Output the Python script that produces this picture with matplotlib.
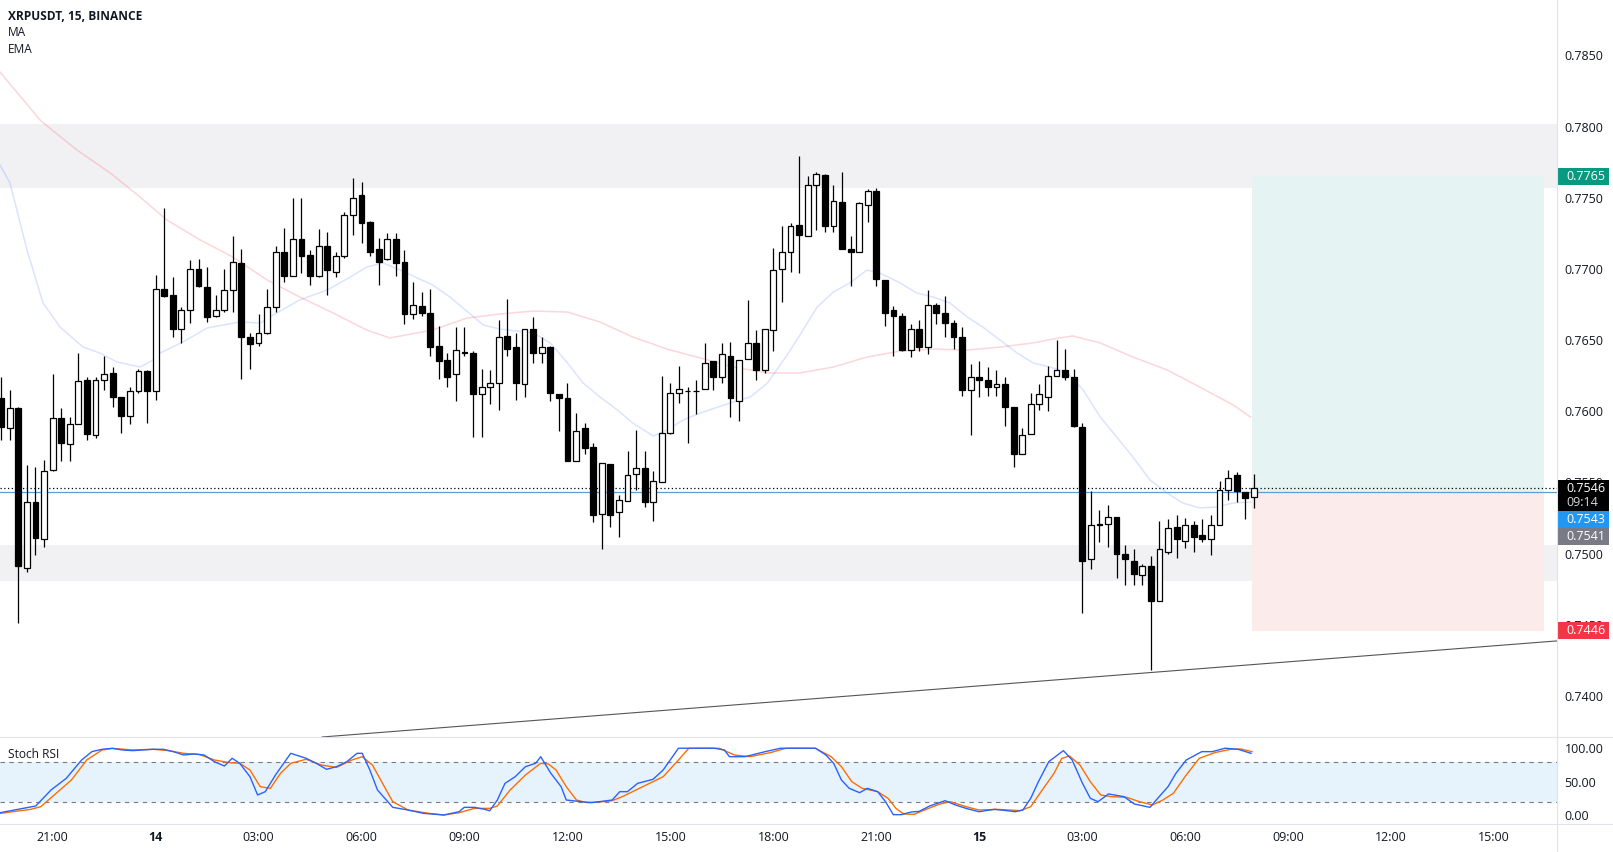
import numpy as np
import matplotlib
matplotlib.use("Agg")
import matplotlib.pyplot as plt
from matplotlib.lines import Line2D
from matplotlib.patches import Rectangle
from matplotlib.transforms import blended_transform_factory, ScaledTranslation

plt.rcParams['font.family'] = ['Open Sans', 'DejaVu Sans']

# ---- data (15 min bars, bar 0 = 13th 19:30) ----
opens = [0.7609, 0.7588, 0.7602, 0.7490, 0.7536, 0.7510, 0.7559, 0.7595, 0.7577, 0.7591,
         0.7622, 0.7583, 0.7622, 0.7627, 0.7610, 0.7597, 0.7614, 0.7628, 0.7614, 0.7686,
         0.7682, 0.7658, 0.7671, 0.7700, 0.7687, 0.7667, 0.7671, 0.7685, 0.7704, 0.7652,
         0.7648, 0.7655, 0.7673, 0.7712, 0.7695, 0.7721, 0.7710, 0.7695, 0.7716, 0.7698,
         0.7709, 0.7738, 0.7752, 0.7733, 0.7714, 0.7707, 0.7721, 0.7705, 0.7668, 0.7674,
         0.7669, 0.7646, 0.7636, 0.7626, 0.7641, 0.7641, 0.7612, 0.7617, 0.7620, 0.7653,
         0.7645, 0.7619, 0.7658, 0.7641, 0.7645, 0.7612, 0.7609, 0.7565, 0.7588, 0.7575,
         0.7528, 0.7563, 0.7529, 0.7537, 0.7556, 0.7560, 0.7536, 0.7550, 0.7585, 0.7613,
         0.7614, 0.7614, 0.7616, 0.7635, 0.7624, 0.7639, 0.7607, 0.7637, 0.7648, 0.7629,
         0.7657, 0.7700, 0.7712, 0.7731, 0.7723, 0.7759, 0.7766, 0.7730, 0.7747, 0.7714,
         0.7712, 0.7745, 0.7755, 0.7692, 0.7671, 0.7667, 0.7643, 0.7658, 0.7645, 0.7675,
         0.7669, 0.7662, 0.7652, 0.7615, 0.7624, 0.7622, 0.7617, 0.7619, 0.7603, 0.7570,
         0.7584, 0.7605, 0.7610, 0.7625, 0.7629, 0.7624, 0.7589, 0.7496, 0.7521, 0.7521,
         0.7526, 0.7500, 0.7495, 0.7485, 0.7491, 0.7467, 0.7501, 0.7519, 0.7509, 0.7520,
         0.7513, 0.7510, 0.7520, 0.7545, 0.7555, 0.7543, 0.7540]
highs = [0.7624, 0.7615, 0.7603, 0.7562, 0.7561, 0.7566, 0.7626, 0.7602, 0.7596, 0.7641,
         0.7624, 0.7624, 0.7639, 0.7631, 0.7610, 0.7617, 0.7630, 0.7629, 0.7696, 0.7743,
         0.7694, 0.7673, 0.7706, 0.7707, 0.7701, 0.7682, 0.7700, 0.7723, 0.7714, 0.7655,
         0.7668, 0.7686, 0.7716, 0.7729, 0.7750, 0.7750, 0.7713, 0.7728, 0.7726, 0.7712,
         0.7740, 0.7764, 0.7761, 0.7734, 0.7722, 0.7725, 0.7725, 0.7713, 0.7691, 0.7684,
         0.7686, 0.7660, 0.7641, 0.7659, 0.7659, 0.7642, 0.7630, 0.7629, 0.7664, 0.7679,
         0.7655, 0.7658, 0.7666, 0.7652, 0.7646, 0.7612, 0.7620, 0.7599, 0.7592, 0.7578,
         0.7564, 0.7563, 0.7541, 0.7572, 0.7587, 0.7572, 0.7558, 0.7625, 0.7620, 0.7632,
         0.7617, 0.7622, 0.7648, 0.7635, 0.7648, 0.7649, 0.7636, 0.7678, 0.7657, 0.7658,
         0.7715, 0.7730, 0.7732, 0.7779, 0.7765, 0.7768, 0.7767, 0.7759, 0.7768, 0.7723,
         0.7747, 0.7756, 0.7757, 0.7692, 0.7674, 0.7669, 0.7661, 0.7664, 0.7685, 0.7676,
         0.7681, 0.7664, 0.7659, 0.7633, 0.7635, 0.7631, 0.7629, 0.7624, 0.7603, 0.7588,
         0.7613, 0.7619, 0.7632, 0.7650, 0.7644, 0.7630, 0.7592, 0.7544, 0.7531, 0.7534,
         0.7526, 0.7506, 0.7503, 0.7493, 0.7498, 0.7523, 0.7524, 0.7527, 0.7525, 0.7523,
         0.7524, 0.7527, 0.7551, 0.7559, 0.7557, 0.7543, 0.7556]
lows = [0.7580, 0.7580, 0.7451, 0.7487, 0.7499, 0.7505, 0.7558, 0.7565, 0.7565, 0.7591,
        0.7580, 0.7581, 0.7615, 0.7603, 0.7585, 0.7591, 0.7613, 0.7592, 0.7608, 0.7680,
        0.7652, 0.7648, 0.7662, 0.7687, 0.7663, 0.7666, 0.7670, 0.7670, 0.7623, 0.7630,
        0.7646, 0.7654, 0.7670, 0.7691, 0.7695, 0.7697, 0.7689, 0.7694, 0.7682, 0.7694,
        0.7708, 0.7724, 0.7718, 0.7709, 0.7689, 0.7706, 0.7695, 0.7661, 0.7665, 0.7667,
        0.7639, 0.7623, 0.7617, 0.7607, 0.7639, 0.7582, 0.7582, 0.7605, 0.7601, 0.7639,
        0.7608, 0.7610, 0.7634, 0.7634, 0.7607, 0.7586, 0.7565, 0.7565, 0.7570, 0.7522,
        0.7503, 0.7519, 0.7512, 0.7537, 0.7545, 0.7533, 0.7523, 0.7550, 0.7584, 0.7606,
        0.7578, 0.7598, 0.7616, 0.7615, 0.7620, 0.7596, 0.7593, 0.7637, 0.7622, 0.7627,
        0.7642, 0.7677, 0.7698, 0.7697, 0.7723, 0.7727, 0.7726, 0.7726, 0.7714, 0.7688,
        0.7712, 0.7733, 0.7688, 0.7660, 0.7639, 0.7642, 0.7638, 0.7642, 0.7640, 0.7661,
        0.7652, 0.7644, 0.7611, 0.7583, 0.7610, 0.7611, 0.7611, 0.7590, 0.7561, 0.7570,
        0.7584, 0.7601, 0.7600, 0.7625, 0.7622, 0.7589, 0.7458, 0.7489, 0.7508, 0.7505,
        0.7483, 0.7478, 0.7478, 0.7478, 0.7418, 0.7467, 0.7500, 0.7497, 0.7504, 0.7501,
        0.7508, 0.7499, 0.7520, 0.7538, 0.7536, 0.7524, 0.7532]
closes = [0.7589, 0.7602, 0.7491, 0.7536, 0.7511, 0.7558, 0.7595, 0.7578, 0.7591, 0.7621,
          0.7584, 0.7622, 0.7626, 0.7610, 0.7597, 0.7614, 0.7628, 0.7614, 0.7686, 0.7681,
          0.7658, 0.7671, 0.7700, 0.7688, 0.7666, 0.7671, 0.7685, 0.7705, 0.7652, 0.7647,
          0.7655, 0.7673, 0.7712, 0.7695, 0.7721, 0.7709, 0.7695, 0.7716, 0.7699, 0.7709,
          0.7738, 0.7750, 0.7732, 0.7712, 0.7705, 0.7721, 0.7704, 0.7668, 0.7675, 0.7669,
          0.7645, 0.7635, 0.7624, 0.7643, 0.7641, 0.7612, 0.7617, 0.7620, 0.7652, 0.7644,
          0.7620, 0.7658, 0.7641, 0.7645, 0.7613, 0.7609, 0.7565, 0.7586, 0.7574, 0.7527,
          0.7564, 0.7527, 0.7538, 0.7555, 0.7560, 0.7536, 0.7551, 0.7585, 0.7613, 0.7616,
          0.7614, 0.7614, 0.7634, 0.7624, 0.7640, 0.7609, 0.7636, 0.7648, 0.7629, 0.7658,
          0.7699, 0.7712, 0.7730, 0.7724, 0.7759, 0.7767, 0.7730, 0.7748, 0.7714, 0.7712,
          0.7746, 0.7755, 0.7693, 0.7669, 0.7667, 0.7643, 0.7658, 0.7645, 0.7675, 0.7669,
          0.7662, 0.7652, 0.7615, 0.7624, 0.7622, 0.7617, 0.7619, 0.7603, 0.7570, 0.7583,
          0.7605, 0.7612, 0.7625, 0.7629, 0.7624, 0.7590, 0.7495, 0.7520, 0.7520, 0.7526,
          0.7500, 0.7496, 0.7486, 0.7491, 0.7467, 0.7503, 0.7518, 0.7510, 0.7520, 0.7512,
          0.7510, 0.7520, 0.7545, 0.7553, 0.7544, 0.7539, 0.7546]

# moving averages: (bar, price)
ma_pts = [(-0.14, 0.78383), (4.64, 0.78039), (8.84, 0.77835), (12.7, 0.77674), (16.2, 0.77505),
          (19.3, 0.77344), (23.2, 0.77203), (27.0, 0.77084), (31.0, 0.76922), (34.8, 0.76803),
          (38.7, 0.76690), (42.6, 0.76571), (45.3, 0.76515), (50.3, 0.76571), (54.3, 0.76655),
          (58.1, 0.76683), (62.0, 0.76704), (66.0, 0.76697), (69.8, 0.76627), (73.6, 0.76522),
          (77.6, 0.76437), (81.5, 0.76374), (85.3, 0.76311), (89.3, 0.76269), (93.1, 0.76269),
          (97.0, 0.76311), (100.9, 0.76381), (104.8, 0.76423), (108.6, 0.76437), (112.6, 0.76430),
          (116.4, 0.76451), (120.3, 0.76480), (122.6, 0.76508), (124.9, 0.76529), (128.1, 0.76480),
          (131.9, 0.76381), (135.9, 0.76290), (139.7, 0.76170), (143.6, 0.76044), (145.6, 0.75960)]
ema_pts = [(-0.14, 0.77730), (1.03, 0.77604), (3.01, 0.77133), (4.88, 0.76761), (6.86, 0.76592),
           (9.54, 0.76451), (11.5, 0.76409), (13.5, 0.76346), (16.2, 0.76311), (17.7, 0.76360),
           (18.5, 0.76409), (21.2, 0.76487), (24.0, 0.76585), (27.8, 0.76627), (30.2, 0.76620),
           (31.7, 0.76676), (34.8, 0.76782), (38.0, 0.76852), (40.7, 0.76943), (42.6, 0.77013),
           (44.5, 0.77042), (46.5, 0.76992), (50.3, 0.76887), (52.3, 0.76803), (56.2, 0.76606),
           (58.1, 0.76578), (62.0, 0.76550), (64.0, 0.76480), (66.0, 0.76340), (67.8, 0.76200),
           (69.8, 0.76100), (71.8, 0.76010), (73.6, 0.75918), (76.0, 0.75826), (77.6, 0.75868),
           (79.5, 0.75939), (81.5, 0.75988), (85.3, 0.76065), (87.3, 0.76100), (89.3, 0.76198),
           (91.6, 0.76395), (93.1, 0.76536), (95.1, 0.76732), (97.0, 0.76838), (98.9, 0.76901),
           (100.9, 0.76992), (102.4, 0.76971), (104.8, 0.76901), (106.7, 0.76831), (108.6, 0.76803),
           (110.6, 0.76760), (112.6, 0.76662), (114.4, 0.76592), (116.4, 0.76501), (118.4, 0.76410),
           (120.3, 0.76339), (122.2, 0.76311), (124.2, 0.76276), (126.1, 0.76150), (128.1, 0.75960),
           (130.0, 0.75820), (131.9, 0.75679), (133.9, 0.75517), (135.9, 0.75426), (137.7, 0.75356),
           (139.7, 0.75321), (141.7, 0.75328), (143.6, 0.75356), (145.6, 0.75363)]

# stoch rsi: (bar, value)
stoch_k = [(-0.14, 4.0), (4.03, 14.0), (5.81, 37.8), (7.59, 55.2), (9.38, 82.5), (10.57, 94.9),
           (11.76, 98.4), (12.94, 99.8), (14.13, 97.4), (15.32, 96.4), (16.51, 97.4), (17.7, 98.4),
           (18.89, 98.4), (20.08, 94.9), (21.27, 89.9), (22.46, 91.4), (23.65, 89.9), (24.84, 80.0),
           (26.02, 73.5), (26.92, 85.0), (27.81, 77.5), (29.0, 57.6), (29.89, 30.4), (30.78, 35.3),
           (31.97, 60.1), (33.75, 92.4), (35.54, 85.0), (36.73, 77.5), (37.92, 68.6), (39.1, 72.6),
           (40.29, 80.0), (41.48, 92.4), (42.08, 92.4), (42.97, 67.6), (43.86, 37.8), (45.64, 12.0),
           (47.43, 8.0), (49.21, 3.1), (51.59, 0.6), (53.37, 5.5), (53.97, 12.0), (55.16, 12.0),
           (56.35, 9.0), (56.94, 7.0), (57.83, 22.9), (58.72, 47.7), (59.91, 57.6), (61.1, 72.5),
           (62.29, 77.5), (62.88, 87.4), (64.07, 62.6), (65.26, 42.8), (65.86, 22.9), (67.64, 20.4),
           (68.83, 19.0), (70.02, 20.9), (71.21, 22.9), (72.1, 35.3), (72.99, 35.3), (74.18, 47.7),
           (75.97, 53.7), (77.16, 67.6), (78.94, 100.0), (80.72, 100.0), (83.1, 100.0), (84.29, 97.4),
           (84.88, 87.4), (86.67, 87.4), (89.05, 94.9), (90.83, 100.0), (92.61, 100.0), (94.91, 100.0),
           (96.12, 89.9), (97.03, 77.5), (97.93, 52.7), (98.84, 40.3), (100.05, 33.8), (100.95, 40.3),
           (102.16, 35.3), (103.07, 20.4), (103.98, 1.1), (104.88, 1.1), (106.09, 5.1), (107.0, 6.0),
           (108.21, 14.0), (110.02, 21.9), (111.23, 15.5), (112.44, 10.5), (113.95, 5.5), (115.76, 9.0),
           (117.27, 7.0), (118.18, 5.5), (119.08, 8.0), (119.99, 25.4), (120.89, 50.2), (122.1, 80.0),
           (123.8, 96.4), (124.82, 82.5), (126.03, 47.7), (126.94, 25.4), (127.84, 20.4), (129.05, 31.9),
           (130.86, 27.9), (132.07, 17.0), (133.89, 12.0), (134.79, 25.4), (136.0, 42.8), (136.91, 62.6),
           (138.12, 82.5), (139.93, 94.9), (141.14, 94.9), (142.65, 100.0), (144.16, 98.4), (145.67, 92.4)]
stoch_d = [(-0.14, 3.0), (3.43, 9.0), (4.62, 13.0), (6.4, 32.8), (8.19, 52.7), (9.97, 82.5),
           (11.76, 97.4), (12.94, 99.8), (15.32, 97.4), (17.7, 98.4), (19.48, 96.4), (21.27, 92.4),
           (23.05, 90.9), (24.84, 82.5), (26.62, 78.5), (27.81, 77.5), (29.0, 67.6), (30.19, 42.8),
           (31.38, 40.3), (32.56, 62.6), (33.75, 77.5), (35.54, 83.5), (37.32, 75.0), (39.1, 71.5),
           (40.89, 82.5), (42.08, 87.4), (43.27, 75.0), (44.45, 47.7), (45.64, 20.4), (47.43, 8.0),
           (49.81, 3.1), (51.59, 0.6), (53.37, 4.0), (55.16, 10.5), (56.94, 10.5), (57.83, 14.0),
           (59.32, 37.8), (61.1, 60.1), (62.88, 77.5), (63.78, 76.5), (64.67, 67.6), (65.86, 42.8),
           (67.05, 22.9), (68.24, 19.0), (70.02, 20.4), (71.21, 21.9), (72.4, 27.9), (74.78, 42.8),
           (77.16, 57.6), (78.94, 82.5), (80.13, 99.8), (81.91, 100.0), (83.69, 99.8), (85.48, 89.9),
           (87.26, 87.4), (89.64, 93.4), (91.42, 99.8), (92.61, 100.0), (94.91, 99.8), (96.73, 87.4),
           (97.93, 72.6), (99.14, 50.2), (100.35, 40.3), (102.16, 35.3), (103.37, 25.4), (104.28, 10.5),
           (105.18, 2.1), (106.39, 1.6), (107.6, 8.0), (109.41, 17.0), (110.62, 20.4), (112.44, 13.0),
           (113.95, 8.0), (116.06, 9.0), (117.57, 8.0), (118.78, 7.0), (119.99, 13.0), (121.2, 35.3),
           (122.71, 62.6), (123.61, 84.9), (124.52, 88.4), (125.73, 75.0), (126.94, 50.2), (128.15, 30.4),
           (129.35, 27.9), (131.17, 26.9), (132.68, 20.4), (134.19, 15.5), (135.4, 22.9), (136.61, 32.8),
           (138.12, 60.1), (139.63, 84.9), (141.44, 93.4), (143.26, 98.4), (144.46, 98.9), (145.79, 94.9)]

# zones / drawings
top_zone = (0.77566, 0.78021)
low_zone = (0.74808, 0.75061)
entry, target, stop = 0.7543, 0.7765, 0.7446
last_price = 0.7546
ema_tag = 0.7541
countdown = '09:14'
pos_start, pos_end = 145.8, 179.8
trend_a = (37.4, 0.73712)
trend_b = (134.0, 0.74165)

time_ticks = [6, 18, 30, 42, 54, 66, 78, 90, 102, 114, 126, 138, 150, 162, 174]
time_labels = ['21:00', '14', '03:00', '06:00', '09:00', '12:00', '15:00', '18:00',
               '21:00', '15', '03:00', '06:00', '09:00', '12:00', '15:00']
price_ticks = [0.7400, 0.7450, 0.7500, 0.7550, 0.7600, 0.7650, 0.7700, 0.7750, 0.7800, 0.7850]

W, H = 1613, 852
fig = plt.figure(figsize=(W / 100, H / 100), dpi=100)
ax = fig.add_axes([0, 115 / H, 1557 / W, 737 / H])
ax2 = fig.add_axes([0, 28 / H, 1557 / W, 87 / H])
txt = '#131722'
fs = 9.0
xl = (-0.135, 181.33)
yl = (0.73712, 0.78889)

# ---- main price panel ----
ax.axhspan(*top_zone, color='#f1f1f4', lw=0, zorder=0)
ax.axhspan(*low_zone, color='#f1f1f4', lw=0, zorder=0)
ax.fill_between([pos_start, pos_end], entry, target, color='#e5f3f3', lw=0, zorder=0.5)
ax.fill_between([pos_start, pos_end], stop, entry, color='#fcebeb', lw=0, zorder=0.5)

mx, my = zip(*ma_pts)
ax.plot(mx, my, color='#f23645', alpha=0.2, lw=1.1, zorder=1)
ex, ey = zip(*ema_pts)
ax.plot(ex, ey, color='#2962ff', alpha=0.17, lw=1.1, zorder=1)

ax.axhline(entry, color='#5d9fd6', lw=0.9, zorder=1.5)
ax.axhline(last_price, color='black', lw=0.9, ls=(0, (1, 2)), zorder=1.5)
ax.axline(trend_a, trend_b, color='#555555', lw=0.8, zorder=2)

o = np.array(opens); h = np.array(highs); l = np.array(lows); c = np.array(closes)
idx = np.arange(len(o))
up = c >= o
ax.vlines(idx, l, h, color='black', lw=0.9, zorder=2.5)
ax.bar(idx, np.maximum(np.abs(c - o), 0.00004), bottom=np.minimum(o, c), width=0.68,
       color=np.where(up, 'white', 'black'), edgecolor='black', linewidth=0.9, zorder=3)

ax.set_xlim(*xl)
ax.set_ylim(*yl)
ax.set_xticks([])
ax.yaxis.tick_right()
ax.set_yticks(price_ticks)
ax.set_yticklabels(['%.4f' % p for p in price_ticks])
ax.tick_params(axis='y', length=0, pad=5.5, labelsize=fs, labelcolor=txt)
for s in ax.spines.values():
    s.set_visible(False)

# price tags on the scale
per_px = (yl[1] - yl[0]) / 737.0
axw = 1557.0


def tag(price, text, color, shift=0, fg='white', rows=1):
    tr = blended_transform_factory(ax.transAxes, ax.transData) + \
        ScaledTranslation(0, -shift / 100.0, fig.dpi_scale_trans)
    top = price + 8.5 * per_px
    hgt = (17 + 14 * (rows - 1)) * per_px
    ax.add_patch(Rectangle((1.0, top - hgt), 52 / axw, hgt, transform=tr, color=color,
                           lw=0, clip_on=False, zorder=10))
    ax.text(1.0 + 9 / axw, price, text, transform=tr, ha='left', va='center', color=fg,
            fontsize=fs, clip_on=False, zorder=11)


tag(target, '%.4f' % target, '#089981')
tag(stop, '%.4f' % stop, '#f23645')
tag(last_price, '%.4f' % last_price, 'black', rows=2)
tag(last_price, countdown, 'black', shift=14, fg='#d8d8d8', rows=0)
tag(entry, '%.4f' % entry, '#2196f3', shift=27)
tag(ema_tag, '%.4f' % ema_tag, '#787b86', shift=41)

# ---- stoch rsi panel ----
ax2.axhspan(20, 80, color='#e6f3fd', lw=0, zorder=0)
ax2.axhline(80, color='#787b86', lw=0.8, ls=(0, (4, 4)))
ax2.axhline(20, color='#787b86', lw=0.8, ls=(0, (4, 4)))
kx, ky = zip(*stoch_k)
dx, dy_ = zip(*stoch_d)
ax2.plot(dx, dy_, color='#ff6d00', lw=1.0, zorder=2)
ax2.plot(kx, ky, color='#2962ff', lw=1.0, zorder=3)
ax2.set_xlim(*xl)
ax2.set_ylim(-12.8, 116.7)
ax2.yaxis.tick_right()
ax2.set_yticks([0, 50, 100])
ax2.set_yticklabels(['0.00', '50.00', '100.00'])
ax2.tick_params(axis='y', length=0, pad=5.5, labelsize=fs, labelcolor=txt)
ax2.set_xticks(time_ticks)
ax2.set_xticklabels(time_labels)
ax2.tick_params(axis='x', length=0, pad=5.0, labelsize=fs, labelcolor=txt)
for lab in ax2.get_xticklabels():
    if ':' not in lab.get_text():
        lab.set_fontweight('bold')
for s in ax2.spines.values():
    s.set_visible(False)

# separators
sep = '#e0e3eb'
fig.add_artist(Line2D([0, 1], [1 - 737 / H, 1 - 737 / H], color=sep, lw=0.8))
fig.add_artist(Line2D([0, 1], [1 - 824 / H, 1 - 824 / H], color=sep, lw=0.8))
fig.add_artist(Line2D([1557 / W, 1557 / W], [0, 1], color=sep, lw=0.8))

# legend texts
fig.text(8 / W, 1 - 16.5 / H, 'XRPUSDT, 15, BINANCE', fontsize=8.6, fontweight='bold',
         color=txt, va='center')
fig.text(8 / W, 1 - 33 / H, 'MA', fontsize=8.6, color=txt, va='center')
fig.text(8 / W, 1 - 49.5 / H, 'EMA', fontsize=8.6, color=txt, va='center')
fig.text(8 / W, 1 - 755 / H, 'Stoch RSI', fontsize=8.6, color=txt, va='center')

fig.savefig('out.png', dpi=100, facecolor='white')
